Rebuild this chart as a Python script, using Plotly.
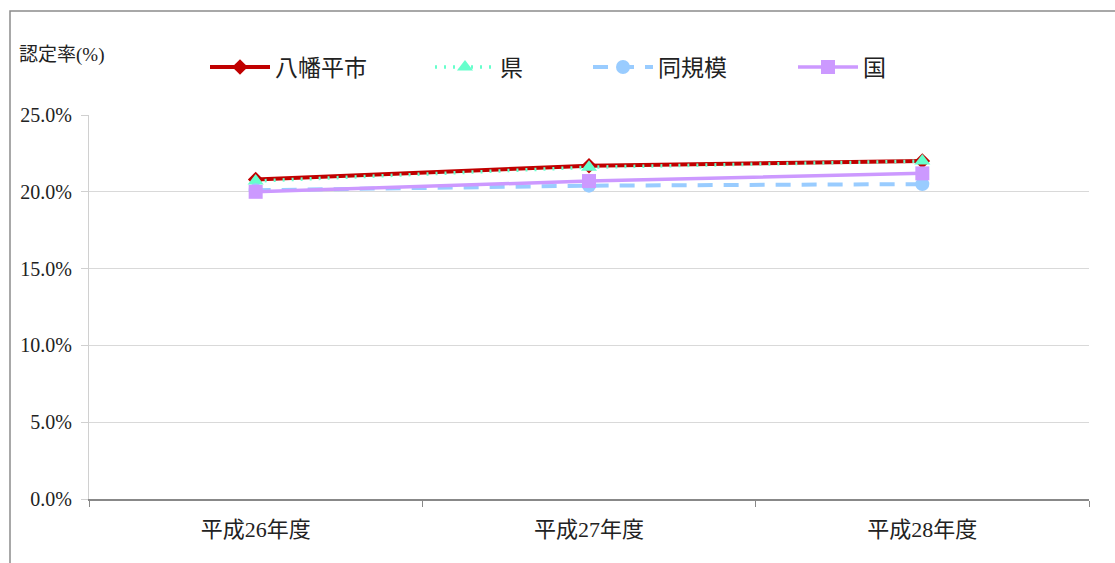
import plotly.graph_objects as go

# 要介護認定率の推移
years = ["平成26年度", "平成27年度", "平成28年度"]
hachimantai = [20.8, 21.7, 22.0]
ken = [20.7, 21.6, 22.0]
doukibo = [20.1, 20.4, 20.5]
kuni = [20.0, 20.7, 21.2]

y_ticks = [0, 5, 10, 15, 20, 25]
y_tick_labels = ["0.0%", "5.0%", "10.0%", "15.0%", "20.0%", "25.0%"]

FONT = "Liberation Serif, Noto Sans CJK JP, serif"
W, H = 1115, 563
L, R, T, B = 89, 26, 115, 64
PW, PH = W - L - R, H - T - B


def px_x(px):
    return (px - L) / PW


def px_y(py):
    return (H - B - py) / PH


series = [
    dict(name="八幡平市", y=hachimantai, color="#C00000", dash="solid", width=4,
         symbol="diamond", size=12, legend="legend", lx=205),
    dict(name="県", y=ken, color="#66FFCC", dash="2px,7px", width=3.5,
         symbol="triangle-up", size=14, legend="legend2", lx=430),
    dict(name="同規模", y=doukibo, color="#99CCFF", dash="15px,11px", width=4,
         symbol="circle", size=14, legend="legend3", lx=588),
    dict(name="国", y=kuni, color="#CC99FF", dash="solid", width=3.5,
         symbol="square", size=14, legend="legend4", lx=793),
]

fig = go.Figure()
for s in series:
    fig.add_trace(go.Scatter(
        x=years, y=s["y"], name=s["name"], mode="lines+markers",
        line=dict(color=s["color"], width=s["width"], dash=s["dash"]),
        marker=dict(symbol=s["symbol"], size=s["size"], color=s["color"]),
        legend=s["legend"],
    ))

legends = {}
for s in series:
    legends[s["legend"]] = dict(
        x=px_x(s["lx"]), y=px_y(67), xanchor="left", yanchor="middle",
        orientation="h", bgcolor="rgba(0,0,0,0)", borderwidth=0,
        font=dict(family=FONT, size=23, color="#222"),
        itemwidth=60,
    )

fig.update_layout(
    width=W, height=H,
    margin=dict(l=L, r=R, t=T, b=B),
    paper_bgcolor="white", plot_bgcolor="white",
    font=dict(family=FONT, color="#222"),
    showlegend=True,
    **legends,
    xaxis=dict(
        type="category", tickson="boundaries", ticks="outside", ticklen=6,
        tickcolor="#888", showline=True, linecolor="#888", linewidth=1.5,
        showgrid=False, tickfont=dict(family=FONT, size=22, color="#222"),
        ticklabelstandoff=10,
        range=[-0.5, 2.5],
    ),
    yaxis=dict(
        range=[0, 25], tickvals=y_ticks, ticktext=y_tick_labels,
        ticks="outside", ticklen=7, tickcolor="#D0D0D0",
        showline=True, linecolor="#D0D0D0", linewidth=1,
        showgrid=True, gridcolor="#D9D9D9", gridwidth=1, zeroline=False,
        tickfont=dict(family=FONT, size=20, color="#222"),
        ticklabelstandoff=5,
    ),
    annotations=[dict(
        text="認定率(%)", xref="paper", yref="paper",
        x=px_x(17), y=px_y(55), xanchor="left", yanchor="middle",
        showarrow=False, font=dict(family=FONT, size=19, color="#222"),
    )],
    shapes=[dict(
        type="rect", xref="paper", yref="paper",
        x0=px_x(10), y0=px_y(H + 5), x1=px_x(W + 5), y1=px_y(11),
        line=dict(color="#8C8C8C", width=1.5), layer="below",
    )],
)

fig.write_html("out.html")
